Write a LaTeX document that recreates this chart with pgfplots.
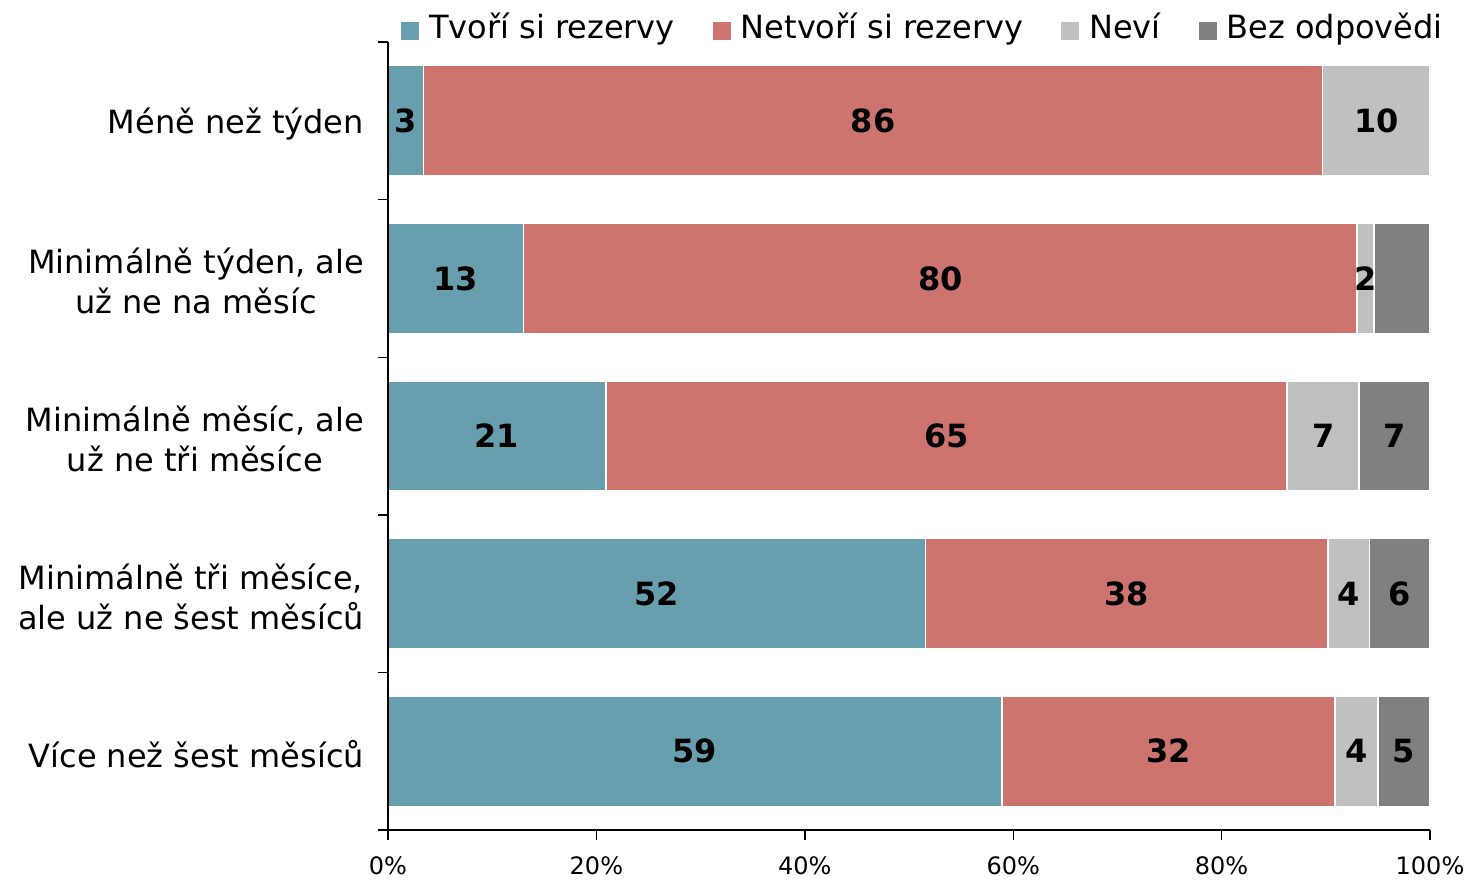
\documentclass[border=0pt]{standalone}
\usepackage{pgfplots}
\pgfplotsset{compat=1.18}
\usepackage{pgfplotstable}
\usepackage{fontspec}
\setmainfont{DejaVu Sans}
\definecolor{cT}{RGB}{104,159,174}
\definecolor{cN}{RGB}{206,116,111}
\definecolor{cV}{RGB}{192,192,192}
\definecolor{cB}{RGB}{128,128,128}

\pgfplotstableread{
y T N V B
0 58.9 32.0 4.1 5.0
1 51.6 38.6 4.0 5.8
2 20.9 65.4 6.9 6.8
3 13.0 80.0 1.6 5.4
4 3.4 86.3 10.3 0
}\bars

\pgfplotstableread{
x y lab
29.45 0 59
74.9 0 32
92.95 0 4
97.5 0 5
25.8 1 52
70.9 1 38
92.2 1 4
97.1 1 6
10.45 2 21
53.6 2 65
89.75 2 7
96.6 2 7
6.5 3 13
53.0 3 80
93.8 3 2
1.7 4 3
46.55 4 86
94.85 4 10
}\labels

\pgfplotsset{
  common/.style={
    width=521pt, height=394pt, scale only axis,
    at={(194pt,24.5pt)}, anchor=south west,
    xmin=0, xmax=100, ymin=-0.5, ymax=4.5,
  }
}

\begin{document}
\begin{tikzpicture}
\useasboundingbox (0,0) rectangle (735pt,439.5pt);
\begin{axis}[
  common,
  axis on top,
  xbar stacked,
  bar width=0.7,
  axis x line*=bottom, axis y line*=left,
  axis line style={black, line width=0.7pt},
  tick style={black, line width=0.7pt},
  tick align=outside,
  major tick length=5pt,
  minor tick length=5pt,
  xtick={0,20,40,60,80,100},
  xticklabel={\pgfmathprintnumber{\tick}\%},
  /pgf/number format/assume math mode=true,
  xticklabel style={font=\fontsize{12}{14}\selectfont, yshift=-5pt},
  ytick={0,1,2,3,4},
  minor ytick={-0.5,0.5,1.5,2.5,3.5,4.5},
  major y tick style={draw=none},
  yticklabels={{Více než šest měsíců},{Minimálně tři měsíce,\\ale už ne šest měsíců},{Minimálně měsíc, ale\\už ne tři měsíce},{Minimálně týden, ale\\už ne na měsíc},{Méně než týden}},
  yticklabel style={font=\fontsize{16}{20}\selectfont, align=center, xshift=-3.5pt, yshift=-1.5pt},
  legend style={draw=none, fill=none, legend columns=-1,
    at={(0.5,1)}, anchor=center, xshift=7.5pt, yshift=7.5pt,
    font=\fontsize{16}{19}\selectfont,
    /tikz/every even column/.append style={column sep=17pt},
    /tikz/every odd column/.append style={column sep=3pt}},
  legend image code/.code={\fill[#1, draw=none] (0pt,-6.5pt) rectangle (9pt,2.5pt);},
]
\addplot[fill=cT, draw=white, line width=0.8pt] table[x=T, y=y]{\bars};
\addlegendentry{Tvoří si rezervy}
\addplot[fill=cN, draw=white, line width=0.8pt] table[x=N, y=y]{\bars};
\addlegendentry{Netvoří si rezervy}
\addplot[fill=cV, draw=white, line width=0.8pt] table[x=V, y=y]{\bars};
\addlegendentry{Neví}
\addplot[fill=cB, draw=white, line width=0.8pt] table[x=B, y=y]{\bars};
\addlegendentry{Bez odpovědi}
\end{axis}
\begin{axis}[
  common,
  hide axis,
]
\addplot[draw=none, nodes near coords, point meta=explicit symbolic,
  every node near coord/.append style={anchor=center, font=\bfseries\fontsize{16}{19}\selectfont}]
  table[x=x, y=y, meta=lab]{\labels};
\end{axis}
\end{tikzpicture}
\end{document}
